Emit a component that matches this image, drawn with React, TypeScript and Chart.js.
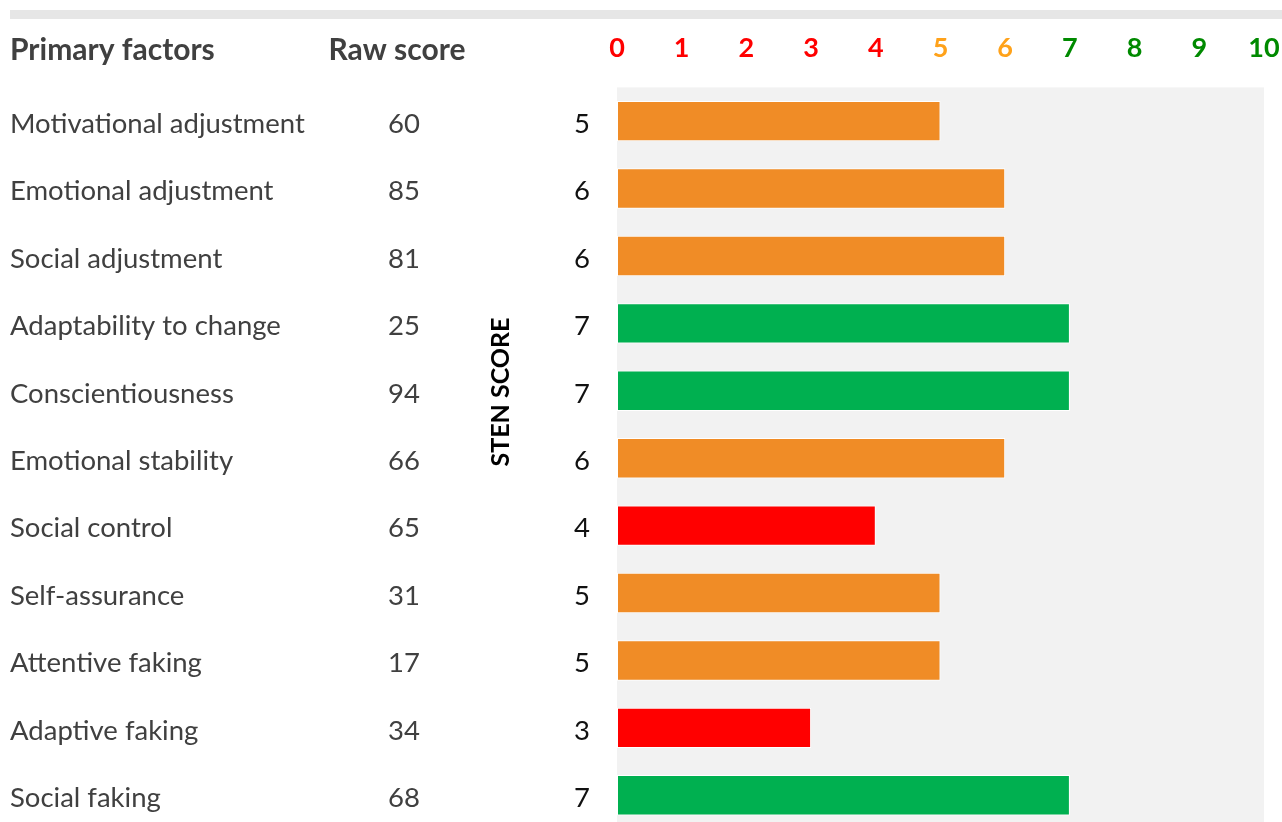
import React, { useEffect, useRef } from "react";
import { Chart, registerables } from "chart.js";

Chart.register(...registerables);

const factors = [
  "Motivational adjustment",
  "Emotional adjustment",
  "Social adjustment",
  "Adaptability to change",
  "Conscientiousness",
  "Emotional stability",
  "Social control",
  "Self-assurance",
  "Attentive faking",
  "Adaptive faking",
  "Social faking",
];
const rawScores = [60, 85, 81, 25, 94, 66, 65, 31, 17, 34, 68];
const stenScores = [5, 6, 6, 7, 7, 6, 4, 5, 5, 3, 7];
const stenTicks = [0, 1, 2, 3, 4, 5, 6, 7, 8, 9, 10];
const headerFactors = "Primary factors";
const headerRaw = "Raw score";
const stenTitle = "STEN SCORE";

const RED = "#FF0000";
const ORANGE_BAR = "#F08C26";
const GREEN_BAR = "#00B050";
const ORANGE_TICK = "#FFA21A";
const GREEN_TICK = "#008A00";
const TEXT = "#404040";
const FONT = "Lato, 'Open Sans', sans-serif";

const barColor = (v: number) => (v <= 4 ? RED : v <= 6 ? ORANGE_BAR : GREEN_BAR);
const tickColor = (v: number) => (v <= 4 ? RED : v <= 6 ? ORANGE_TICK : GREEN_TICK);

const sidePlugin = {
  id: "sidePlugin",
  beforeDraw(chart: any) {
    const { ctx, chartArea, width } = chart;
    ctx.save();
    ctx.fillStyle = "#E6E6E6";
    ctx.fillRect(10, 10, width - 10, 9);
    ctx.fillStyle = "#F2F2F2";
    ctx.fillRect(chartArea.left, chartArea.top, chartArea.right - chartArea.left, chartArea.bottom - chartArea.top);
    ctx.restore();
  },
  afterDraw(chart: any) {
    const { ctx } = chart;
    const yScale = chart.scales.y;
    ctx.save();
    ctx.textBaseline = "middle";
    ctx.fillStyle = TEXT;
    ctx.font = `bold 30px ${FONT}`;
    ctx.textAlign = "left";
    ctx.fillText(headerFactors, 10, 50);
    ctx.textAlign = "center";
    ctx.fillText(headerRaw, 397, 50);

    factors.forEach((f, i) => {
      const y = yScale.getPixelForValue(i) + 3;
      ctx.font = `27.5px ${FONT}`;
      ctx.fillStyle = TEXT;
      ctx.textAlign = "left";
      ctx.fillText(f, 10, y);
      ctx.textAlign = "center";
      ctx.fillText(String(rawScores[i]), 404, y);
      ctx.fillStyle = "#111111";
      ctx.fillText(String(stenScores[i]), 582, y);
    });

    ctx.translate(501, 392);
    ctx.rotate(-Math.PI / 2);
    ctx.fillStyle = "#000000";
    ctx.font = `bold 25px ${FONT}`;
    ctx.textAlign = "center";
    ctx.fillText(stenTitle, 0, 0);
    ctx.restore();
  },
};

export default function App() {
  const ref = useRef<HTMLCanvasElement>(null);
  useEffect(() => {
    if (!ref.current) return;
    const chart = new Chart(ref.current, {
      type: "bar",
      data: {
        labels: factors,
        datasets: [
          {
            data: stenScores,
            backgroundColor: stenScores.map(barColor),
            borderColor: "#FFFFFF",
            borderWidth: 1,
            borderSkipped: false,
            barPercentage: 0.6,
            categoryPercentage: 1,
          },
        ],
      },
      options: {
        indexAxis: "y",
        responsive: false,
        animation: false,
        devicePixelRatio: 1,
        layout: { padding: { left: 617, right: 18, top: 9, bottom: 1 } },
        plugins: { legend: { display: false }, tooltip: { enabled: false } },
        scales: {
          x: {
            position: "top",
            min: 0,
            max: 10,
            afterBuildTicks: (axis: any) => {
              axis.ticks = stenTicks.map((v) => ({ value: v }));
            },
            afterFit: (axis: any) => {
              axis.paddingLeft = 0;
              axis.paddingRight = 0;
            },
            grid: { display: false, drawTicks: false },
            border: { display: false },
            ticks: {
              padding: 23,
              font: { family: FONT, size: 27, weight: "bold" },
              color: (c: any) => tickColor(c.tick.value),
            },
          },
          y: {
            display: false,
            grid: { display: false },
          },
        },
      },
      plugins: [sidePlugin],
    });
    return () => chart.destroy();
  }, []);
  return (
    <div style={{ position: "fixed", left: 0, top: 0, width: 1282, height: 822, overflow: "hidden", background: "#fff" }}>
      <canvas ref={ref} width={1282} height={830} style={{ display: "block", width: 1282, height: 830 }} />
    </div>
  );
}
